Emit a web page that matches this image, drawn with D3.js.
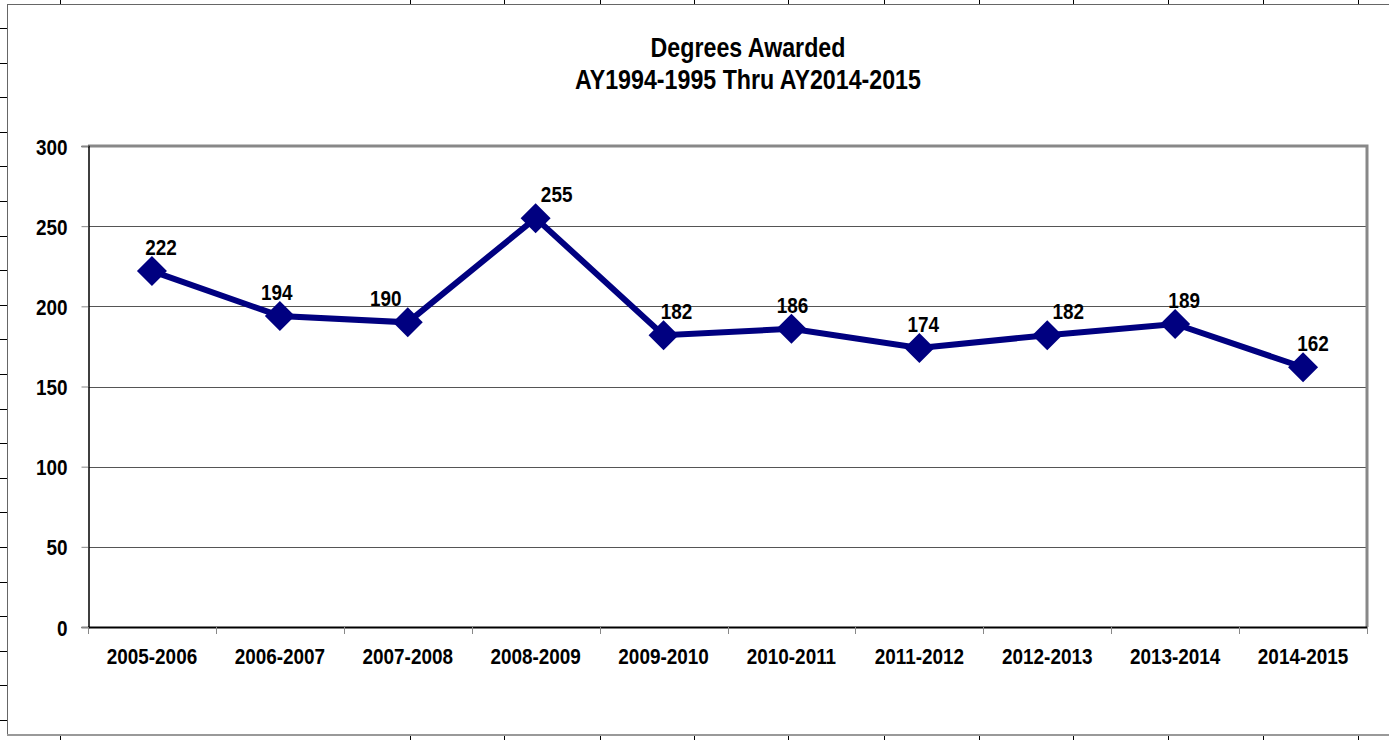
<!DOCTYPE html>
<html>
<head>
<meta charset="utf-8">
<script src="https://cdn.jsdelivr.net/npm/d3@7"></script>
<style>
  html, body { margin: 0; padding: 0; background: #fff; }
  svg { display: block; }
  text.lbl { font-family: "Liberation Sans", Arial, sans-serif; font-weight: bold; fill: #000; font-size: 22px; }
  text.ttl { font-size: 27px; }
</style>
</head>
<body>
<svg id="chart" width="1389" height="740"></svg>
<script>
// ---- data ----
const categories = ["2005-2006", "2006-2007", "2007-2008", "2008-2009", "2009-2010",
                    "2010-2011", "2011-2012", "2012-2013", "2013-2014", "2014-2015"];
const degrees = [222, 194, 190, 255, 182, 186, 174, 182, 189, 162];
const yTicks = [0, 50, 100, 150, 200, 250, 300];
const titleLines = ["Degrees Awarded", "AY1994-1995 Thru AY2014-2015"];
// manual label nudges (as placed in the original)
const labelDx = [9, -3, -22, 21, 13, 1, 4, 21, 9, 10];

// ---- layout ----
const W = 1389, H = 740;
const plot = { left: 88, top: 146, right: 1367, bottom: 627 };
const NARROW = 0.86;
const svg = d3.select("#chart");

// narrow-font text helper (emulates a condensed face)
function addText(parent, x, y, txt, anchor) {
  return parent.append("text").attr("class", "lbl")
    .attr("transform", `translate(${x},${y}) scale(${NARROW},1)`)
    .attr("text-anchor", anchor || "middle")
    .text(txt);
}

// sheet-like outer frame with cell marks
const frame = svg.append("g");
const topMarks = [60, 410, 504, 600, 694, 788, 884, 979, 1073, 1168, 1263, 1358];
const leftMarks = d3.range(21).map(i => 28 + i * 34.6);
frame.append("line").attr("x1", 7.5).attr("x2", W).attr("y1", 4.5).attr("y2", 4.5)
  .attr("stroke", "#666").attr("stroke-width", 1);
frame.append("line").attr("x1", 7.5).attr("x2", 7.5).attr("y1", 4).attr("y2", 735)
  .attr("stroke", "#666").attr("stroke-width", 1);
frame.append("line").attr("x1", 7).attr("x2", W).attr("y1", 735).attr("y2", 735)
  .attr("stroke", "#999").attr("stroke-width", 2);
frame.selectAll(".tm").data(topMarks).join("line")
  .attr("x1", d => d + 0.5).attr("x2", d => d + 0.5).attr("y1", 0).attr("y2", 4)
  .attr("stroke", "#000");
frame.selectAll(".bm").data(topMarks).join("line")
  .attr("x1", d => d + 0.5).attr("x2", d => d + 0.5).attr("y1", 736).attr("y2", 740)
  .attr("stroke", "#000");
frame.selectAll(".lm").data(leftMarks).join("line")
  .attr("x1", 0).attr("x2", 7).attr("y1", d => Math.round(d) + 0.5).attr("y2", d => Math.round(d) + 0.5)
  .attr("stroke", "#000");

// scales
const x = d3.scaleBand().domain(categories).range([plot.left, plot.right]);
const y = d3.scaleLinear().domain([0, 300]).range([plot.bottom, plot.top]);

// gridlines
svg.append("g").selectAll("line").data(yTicks.filter(t => t > 0 && t < 300)).join("line")
  .attr("x1", plot.left).attr("x2", plot.right)
  .attr("y1", d => Math.round(y(d)) + 0.5).attr("y2", d => Math.round(y(d)) + 0.5)
  .attr("stroke", "#555").attr("stroke-width", 1);

// plot border top/right (gray)
svg.append("path")
  .attr("d", `M${plot.left},${plot.top} H${plot.right} V${plot.bottom}`)
  .attr("fill", "none").attr("stroke", "#888").attr("stroke-width", 3);

// y axis (ticks + domain via d3 axis, labels in narrow text)
const yAxis = d3.axisLeft(y).tickValues(yTicks).tickSize(7).tickFormat("");
const gy = svg.append("g").attr("transform", `translate(${plot.left + 0.5},0)`).call(yAxis);
gy.select(".domain").attr("stroke", "#000").attr("stroke-width", 1.5);
gy.selectAll(".tick line").attr("stroke", "#888");
gy.selectAll(".tick").each(function(d) {
  addText(d3.select(this), -21, 8, d3.format("d")(d), "end");
});

// x axis
const xAxis = d3.axisBottom(x).tickSize(0).tickFormat("");
const gx = svg.append("g").attr("transform", `translate(0,${plot.bottom})`).call(xAxis);
gx.select(".domain").remove();
gx.selectAll(".tick").each(function(d) {
  addText(d3.select(this), 0, 37, d, "middle");
});
svg.append("line").attr("x1", plot.left).attr("x2", plot.right)
  .attr("y1", plot.bottom + 0.5).attr("y2", plot.bottom + 0.5)
  .attr("stroke", "#000").attr("stroke-width", 2);
// category separators
svg.append("g").selectAll("line").data(d3.range(categories.length + 1)).join("line")
  .attr("x1", i => Math.round(plot.left + i * x.step()) + 0.5)
  .attr("x2", i => Math.round(plot.left + i * x.step()) + 0.5)
  .attr("y1", plot.bottom).attr("y2", plot.bottom + 7)
  .attr("stroke", "#888");

// line
const cx = d => x(d) + x.bandwidth() / 2;
const line = d3.line().x((d, i) => cx(categories[i])).y(d => y(d));
svg.append("path").datum(degrees).attr("d", line)
  .attr("fill", "none").attr("stroke", "#000080").attr("stroke-width", 6)
  .attr("stroke-linejoin", "miter");

// diamond markers
const r = 15;
svg.append("g").selectAll("path").data(degrees).join("path")
  .attr("d", (d, i) => {
    const px = cx(categories[i]), py = y(d);
    return `M${px},${py - r} L${px + r},${py} L${px},${py + r} L${px - r},${py} Z`;
  })
  .attr("fill", "#000080");

// data labels
const gl = svg.append("g");
degrees.forEach((d, i) => {
  addText(gl, cx(categories[i]) + labelDx[i], y(d) - 16, d, "middle");
});

// title
const gt = svg.append("g");
titleLines.forEach((t, i) => addText(gt, 748, 57 + i * 32, t, "middle").classed("ttl", true));
</script>
</body>
</html>
